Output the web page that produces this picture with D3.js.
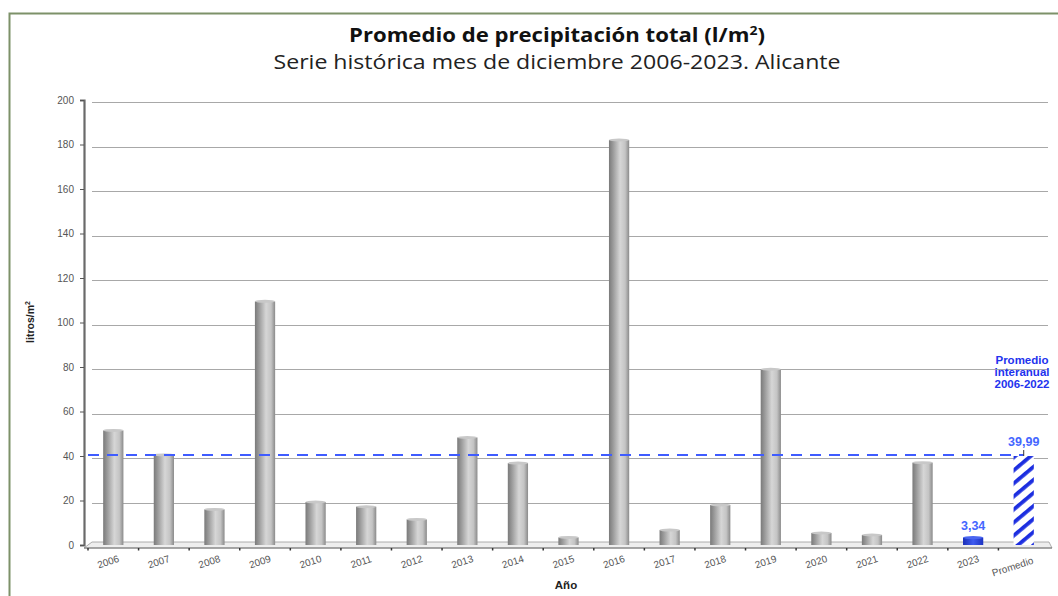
<!DOCTYPE html>
<html><head><meta charset="utf-8">
<script src="https://cdn.jsdelivr.net/npm/d3@7"></script>
<style>body{margin:0;background:#fff}svg{display:block}</style>
</head><body>
<svg id="c" width="1058" height="596"></svg>
<script>
const categories = ["2006","2007","2008","2009","2010","2011","2012","2013","2014","2015","2016","2017","2018","2019","2020","2021","2022","2023","Promedio"];
const values = [51.5,40.5,16,109.5,19.3,17.2,11.5,48.3,36.8,3.4,182,6.7,18,79,5.4,4.5,37,3.34,39.99];
const yTicks = [0,20,40,60,80,100,120,140,160,180,200];
const averageValue = 39.99;
const labels = {"2023":"3,34","Promedio":"39,99"};

const svg = d3.select("#c");
const x = d3.scaleBand().domain(categories).range([88, 1049]).paddingInner(0.6).paddingOuter(0.3);
const y = d3.scaleLinear().domain([0,200]).range([545, 100]);

// frame
svg.append("path").attr("d","M9.5,596 V13.5 H1058").attr("fill","none").attr("stroke","#7d9169").attr("stroke-width",2);

const defs = svg.append("defs");
const g = defs.append("linearGradient").attr("id","cyl").attr("x1","0").attr("x2","1").attr("y1","0").attr("y2","0");
[[0,"#7a7a7a"],[0.2,"#9a9a9a"],[0.55,"#d6d6d6"],[0.8,"#c4c4c4"],[1,"#8a8a8a"]].forEach(([o,c])=>g.append("stop").attr("offset",o).attr("stop-color",c));
const gb = defs.append("linearGradient").attr("id","cylb").attr("x1","0").attr("x2","1");
[[0,"#1a2fb8"],[0.5,"#3f5cf0"],[1,"#1d33c0"]].forEach(([o,c])=>gb.append("stop").attr("offset",o).attr("stop-color",c));
const pat = defs.append("pattern").attr("id","hatch").attr("patternUnits","userSpaceOnUse").attr("width",10).attr("height",10).attr("patternTransform","rotate(-40)");
pat.append("rect").attr("width",10).attr("height",10).attr("fill","#fff");
pat.append("rect").attr("width",10).attr("height",3.8).attr("fill","#1c2ee0");

// gridlines
svg.append("g").selectAll("line").data(yTicks.filter(d=>d>0)).join("line")
  .attr("x1",92).attr("x2",1048).attr("y1",d=>Math.round(y(d))+2.5).attr("y2",d=>Math.round(y(d))+2.5)
  .attr("stroke","#a8a8a8").attr("stroke-width",1.2);

// floor
svg.append("path").attr("d",`M84,548 L92,542 L1049,542 L1052,548 Z`).attr("fill","#eeeeee").attr("stroke","#9a9a9a").attr("stroke-width",0.8);

// y axis
const ya = svg.append("g").attr("transform","translate(84,0)").call(d3.axisLeft(y).tickValues(yTicks).tickSize(4).tickPadding(6));
ya.select(".domain").attr("stroke","#6a6a6a").attr("stroke-width",2.2);
ya.selectAll(".tick line").attr("stroke","#555");
ya.selectAll("text").attr("font-family","Liberation Sans, Arial").attr("font-size",10).attr("fill","#555");

// x axis
const xa = svg.append("g").attr("transform","translate(0,548)");
xa.append("line").attr("x1",84).attr("x2",1052).attr("y1",0).attr("y2",0).attr("stroke","#777").attr("stroke-width",1);
const step = x.step();
xa.selectAll(".tk").data(categories).join("line").attr("class","tk")
  .attr("x1",d=>x(d)+x.bandwidth()/2 - step/2).attr("x2",d=>x(d)+x.bandwidth()/2 - step/2)
  .attr("y1",0).attr("y2",2.5).attr("stroke","#333").attr("stroke-width",1.5);
xa.selectAll("text").data(categories).join("text")
  .attr("transform",d=>`translate(${x(d)+x.bandwidth()/2 - (d==="Promedio"?10:4)},${d==="Promedio"?22:17}) rotate(-18)`)
  .attr("text-anchor","middle").attr("font-family","Liberation Sans, Arial").attr("font-size",10).attr("fill","#555")
  .text(d=>d);

// bars
const bars = svg.append("g");
bars.selectAll("rect").data(categories.map((c,i)=>({c,v:values[i]}))).join("rect")
  .attr("x",d=>x(d.c)).attr("width",x.bandwidth())
  .attr("y",d=>y(d.v)).attr("height",d=>y(0)-y(d.v))
  .attr("fill",d=>d.c==="Promedio"?"url(#hatch)":(d.c==="2023"?"url(#cylb)":"url(#cyl)"));
bars.selectAll("ellipse").data(categories.map((c,i)=>({c,v:values[i]})).filter(d=>d.c!=="Promedio")).join("ellipse")
  .attr("cx",d=>x(d.c)+x.bandwidth()/2).attr("cy",d=>y(d.v)).attr("rx",x.bandwidth()/2).attr("ry",1.5)
  .attr("fill",d=>d.c==="2023"?"#4a66f0":"#c8c8c8");

// average dashed line
svg.append("line").attr("x1",88).attr("x2",x("Promedio")+x.bandwidth()/2).attr("y1",y(averageValue)-1).attr("y2",y(averageValue)-1)
  .attr("stroke","#3f5cff").attr("stroke-width",2.2).attr("stroke-dasharray","11,8");
svg.append("line").attr("x1",x("Promedio")+x.bandwidth()/2).attr("x2",x("Promedio")+x.bandwidth()/2)
  .attr("y1",y(averageValue)-6).attr("y2",y(averageValue)).attr("stroke","#333").attr("stroke-width",1);

// value labels
Object.entries(labels).forEach(([k,t])=>{
  const i = categories.indexOf(k);
  svg.append("text").attr("x",x(k)+x.bandwidth()/2).attr("y",y(values[i])-(k==="Promedio"?10:8))
    .attr("text-anchor","middle").attr("font-family","Liberation Sans, Arial").attr("font-weight","bold")
    .attr("font-size",12.5).attr("fill","#4466ff").text(t);
});

// annotation
const ann = svg.append("text").attr("font-family","Liberation Sans, Arial").attr("font-weight","bold")
  .attr("font-size",11.5).attr("fill","#2233ee").attr("text-anchor","middle");
["Promedio","interanual","2006-2022"].forEach((t,i)=>ann.append("tspan").attr("x",1022).attr("y",364+i*12).text(t));

// titles
svg.append("text").attr("x",557).attr("y",42).attr("text-anchor","middle").attr("font-family","Open Sans").attr("font-weight","bold").attr("font-size",19).attr("fill","#111")
  .attr("textLength",416).attr("lengthAdjust","spacingAndGlyphs")
  .html('Promedio de precipitación total (l/m<tspan dy="-7" font-size="12">2</tspan><tspan dy="7">)</tspan>');
svg.append("text").attr("x",557).attr("y",69).attr("text-anchor","middle").attr("font-family","Open Sans").attr("font-size",19.5).attr("fill","#222")
  .attr("textLength",567).attr("lengthAdjust","spacingAndGlyphs")
  .text("Serie histórica mes de diciembre 2006-2023. Alicante");

// axis titles
svg.append("text").attr("transform","translate(34,322) rotate(-90)").attr("text-anchor","middle")
  .attr("font-family","Liberation Sans, Arial").attr("font-weight","bold").attr("font-size",10.5).attr("fill","#222")
  .html('litros/m<tspan dy="-4" font-size="7">2</tspan>');
svg.append("text").attr("x",566).attr("y",589).attr("text-anchor","middle")
  .attr("font-family","Liberation Sans, Arial").attr("font-weight","bold").attr("font-size",11.5).attr("fill","#222").text("Año");
</script>
</body></html>
